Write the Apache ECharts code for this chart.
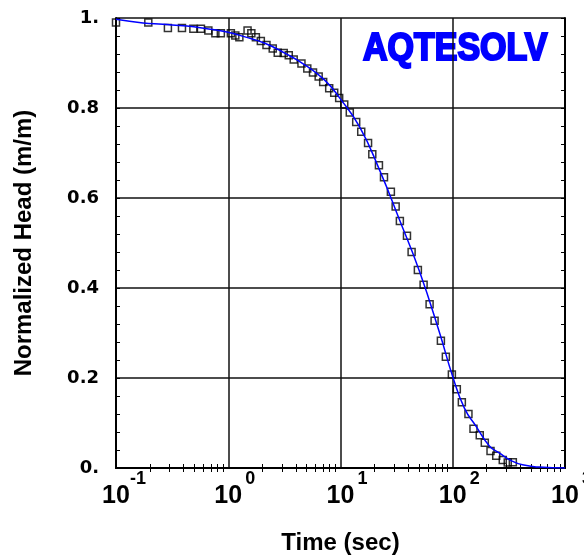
<!DOCTYPE html>
<html>
<head>
<meta charset="utf-8">
<script src="https://cdn.jsdelivr.net/npm/echarts@6/dist/echarts.min.js"></script>
<style>
  html, body { margin: 0; padding: 0; background: #fff; }
  #chart { width: 584px; height: 555px; }
</style>
</head>
<body>
<div id="chart"></div>
<script>
// observed drawdown data (time in sec, normalized head)
const timeObs = [0.1, 0.194, 0.29, 0.387, 0.489, 0.571, 0.665, 0.768, 0.859, 1.055, 1.156, 1.256,
  1.486, 1.606, 1.762, 1.951, 2.19, 2.49, 2.76, 3.12, 3.46, 3.83, 4.49, 5.06, 5.69, 6.39, 7.01,
  7.93, 8.79, 9.73, 10.8, 12.1, 13.8, 15.3, 17.6, 19.2, 22.0, 24.4, 28.1, 31.0, 33.8, 39.1, 43.0,
  48.9, 55.0, 62.2, 68.9, 78.4, 86.8, 98.2, 108.7, 120.5, 138, 153, 174, 193, 217, 244, 279, 309, 343]
const headObs = [0.99, 0.99, 0.978, 0.978, 0.976, 0.976, 0.972, 0.966, 0.966, 0.966, 0.961, 0.957,
  0.972, 0.966, 0.957, 0.949, 0.94, 0.932, 0.923, 0.922, 0.917, 0.908, 0.899, 0.888, 0.879, 0.87, 0.858,
  0.844, 0.834, 0.822, 0.808, 0.79, 0.769, 0.747, 0.722, 0.697, 0.673, 0.646, 0.614, 0.581, 0.549, 0.516, 0.48,
  0.44, 0.407, 0.364, 0.327, 0.283, 0.247, 0.208, 0.175, 0.146, 0.12, 0.087, 0.073, 0.056, 0.038, 0.027, 0.018, 0.012, 0.013]

// fitted type curve
const timeFit = [0.1, 0.174, 0.262, 0.428, 0.646, 0.973, 1.41, 2.12, 3.19, 4.8, 7.23, 9.85, 14.8,
  22.3, 33.6, 50.7, 76.4, 100, 127, 162, 212, 261, 334, 418, 591, 1000]
const headFit = [0.997, 0.989, 0.986, 0.982, 0.976, 0.969, 0.958, 0.944, 0.922, 0.896, 0.862, 0.822, 0.758,
  0.662, 0.551, 0.436, 0.3, 0.203, 0.133, 0.092, 0.049, 0.033, 0.016, 0.007, 0.002, 0]

const xExponents = ['-1', '0', '1', '2', '3']
const yTickLabels = ['0.', '0.2', '0.4', '0.6', '0.8', '1.']

// minor ticks 2..9 inside each decade
const xMinorTicks = []
for (let k = -1; k < 3; k++) {
  for (let m = 2; m <= 9; m++) xMinorTicks.push(m * Math.pow(10, k))
}

const chart = echarts.init(document.getElementById('chart'))

const black = '#000'
const labelFont = 'Liberation Sans'

const logAxisBase = {
  type: 'log',
  logBase: 10,
  min: 0.1,
  max: 1000,
  axisLine: { show: true, lineStyle: { color: black, width: 2 } },
  splitLine: { show: false },
  axisLabel: { show: false }
}

const minorXTicks = {
  show: true,
  inside: true,
  length: 4,
  customValues: xMinorTicks,
  lineStyle: { color: black, width: 1 }
}

const valueAxisBase = {
  type: 'value',
  min: 0,
  max: 1,
  interval: 0.2,
  axisLine: { show: true, lineStyle: { color: black, width: 2 } },
  axisTick: { show: true, inside: true, length: 4, lineStyle: { color: black } },
  minorTick: { show: true, splitNumber: 5, length: 4, lineStyle: { color: black, width: 1 } },
  splitLine: { show: false },
  axisLabel: { show: false }
}

const option = {
  backgroundColor: '#fff',
  animation: false,
  grid: { left: 116, right: 19, top: 18, bottom: 87, outerBoundsMode: 'none' },
  xAxis: [
    {
      ...logAxisBase,
      position: 'bottom',
      axisTick: { show: false },
      splitLine: { show: true, lineStyle: { color: '#111', width: 1.5 } },
      axisLabel: {
        show: true,
        margin: 2,
        formatter: (v) => {
          const k = Math.round(Math.log10(v))
          return '{s|}{b|10}{e|' + xExponents[k + 1] + '}'
        },
        rich: {
          s: { width: 16, lineHeight: 39 },
          b: { fontFamily: labelFont, fontWeight: 'bold', fontSize: 25, lineHeight: 25, color: black, verticalAlign: 'bottom' },
          e: { fontFamily: labelFont, fontWeight: 'bold', fontSize: 18, lineHeight: 18, width: 16, color: black, verticalAlign: 'top' }
        }
      },
      name: 'Time (sec)',
      nameLocation: 'middle',
      nameGap: 63,
      nameTextStyle: { fontFamily: labelFont, fontWeight: 'bold', fontSize: 24, color: black }
    },
    { ...logAxisBase, position: 'top', axisTick: minorXTicks },
    { ...logAxisBase, position: 'bottom', axisLine: { show: false }, axisTick: minorXTicks }
  ],
  yAxis: [
    {
      ...valueAxisBase,
      position: 'left',
      splitLine: { show: true, lineStyle: { color: '#111', width: 1.5 } },
      axisLabel: {
        show: true,
        margin: 17,
        padding: [6, 0, 0, 0],
        formatter: (v) => yTickLabels[Math.round(v / 0.2)],
        fontFamily: 'DejaVu Sans',
        fontWeight: 'bold',
        fontSize: 18,
        color: black
      },
      name: 'Normalized Head (m/m)',
      nameLocation: 'middle',
      nameGap: 80,
      nameTextStyle: { fontFamily: labelFont, fontWeight: 'bold', fontSize: 24, color: black }
    },
    { ...valueAxisBase, position: 'right' }
  ],
  graphic: [
    {
      type: 'text',
      left: 362,
      top: 29,
      scaleY: 1.12,
      style: {
        text: 'AQTESOLV',
        font: 'bold 34px "Liberation Sans"',
        fill: '#0000ff',
        stroke: '#0000ff',
        lineWidth: 2
      }
    }
  ],
  series: [
    {
      name: 'Observed',
      type: 'scatter',
      xAxisIndex: 0,
      yAxisIndex: 0,
      symbol: 'rect',
      symbolSize: 7,
      itemStyle: { color: 'rgba(0,0,0,0)', borderColor: black, borderWidth: 1.5 },
      data: timeObs.map((t, i) => [t, headObs[i]]),
      z: 3
    },
    {
      name: 'Fit',
      type: 'line',
      xAxisIndex: 0,
      yAxisIndex: 0,
      smooth: true,
      showSymbol: false,
      lineStyle: { color: '#0000ff', width: 1.5 },
      data: timeFit.map((t, i) => [t, headFit[i]]),
      z: 4
    }
  ]
}

chart.setOption(option)
</script>
</body>
</html>
